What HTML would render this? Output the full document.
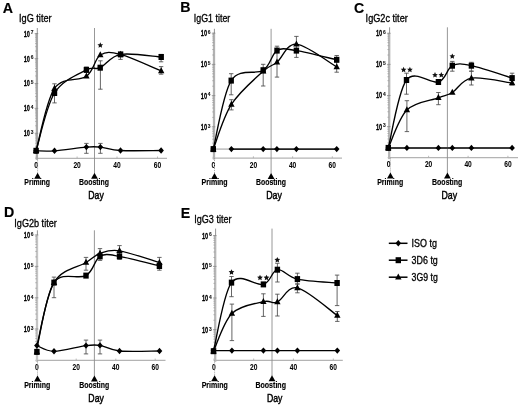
<!DOCTYPE html>
<html><head><meta charset="utf-8"><style>
html,body{margin:0;padding:0;background:#fff;overflow:hidden;width:520px;height:407px;}
svg{display:block;filter:grayscale(1);}
text{font-family:"Liberation Sans", sans-serif;}
</style></head><body>
<svg width="520" height="407" viewBox="0 0 520 407">
<rect width="520" height="407" fill="#fff"/>
<text x="2.80" y="13.10" font-size="14.20" font-weight="bold" text-anchor="start" fill="#000" stroke="#000" stroke-width="0.15">A</text>
<text x="19.00" y="21.80" font-size="10.20" font-weight="normal" text-anchor="start" fill="#000" textLength="32.60" lengthAdjust="spacingAndGlyphs" stroke="#000" stroke-width="0.30">IgG titer</text>
<line x1="35.40" y1="158.30" x2="167.00" y2="158.30" stroke="#b4b4b4" stroke-width="1.3"/>
<line x1="36.20" y1="156.50" x2="36.20" y2="158.30" stroke="#aaa" stroke-width="0.8"/>
<line x1="77.10" y1="156.50" x2="77.10" y2="158.30" stroke="#aaa" stroke-width="0.8"/>
<line x1="117.00" y1="156.50" x2="117.00" y2="158.30" stroke="#aaa" stroke-width="0.8"/>
<line x1="157.50" y1="156.50" x2="157.50" y2="158.30" stroke="#aaa" stroke-width="0.8"/>
<line x1="36.90" y1="33.10" x2="36.90" y2="159.80" stroke="#a8a8a8" stroke-width="2.3"/>
<line x1="37.30" y1="28.00" x2="37.30" y2="33.60" stroke="#777" stroke-width="0.8"/>
<line x1="35.00" y1="150.72" x2="36.90" y2="150.72" stroke="#999" stroke-width="0.6"/>
<line x1="35.00" y1="146.33" x2="36.90" y2="146.33" stroke="#999" stroke-width="0.6"/>
<line x1="35.00" y1="143.22" x2="36.90" y2="143.22" stroke="#999" stroke-width="0.6"/>
<line x1="35.00" y1="140.80" x2="36.90" y2="140.80" stroke="#999" stroke-width="0.6"/>
<line x1="35.00" y1="138.83" x2="36.90" y2="138.83" stroke="#999" stroke-width="0.6"/>
<line x1="35.00" y1="137.16" x2="36.90" y2="137.16" stroke="#999" stroke-width="0.6"/>
<line x1="35.00" y1="135.72" x2="36.90" y2="135.72" stroke="#999" stroke-width="0.6"/>
<line x1="35.00" y1="134.44" x2="36.90" y2="134.44" stroke="#999" stroke-width="0.6"/>
<line x1="35.00" y1="125.80" x2="36.90" y2="125.80" stroke="#999" stroke-width="0.6"/>
<line x1="35.00" y1="121.41" x2="36.90" y2="121.41" stroke="#999" stroke-width="0.6"/>
<line x1="35.00" y1="118.29" x2="36.90" y2="118.29" stroke="#999" stroke-width="0.6"/>
<line x1="35.00" y1="115.88" x2="36.90" y2="115.88" stroke="#999" stroke-width="0.6"/>
<line x1="35.00" y1="113.90" x2="36.90" y2="113.90" stroke="#999" stroke-width="0.6"/>
<line x1="35.00" y1="112.24" x2="36.90" y2="112.24" stroke="#999" stroke-width="0.6"/>
<line x1="35.00" y1="110.79" x2="36.90" y2="110.79" stroke="#999" stroke-width="0.6"/>
<line x1="35.00" y1="109.52" x2="36.90" y2="109.52" stroke="#999" stroke-width="0.6"/>
<line x1="35.00" y1="100.87" x2="36.90" y2="100.87" stroke="#999" stroke-width="0.6"/>
<line x1="35.00" y1="96.48" x2="36.90" y2="96.48" stroke="#999" stroke-width="0.6"/>
<line x1="35.00" y1="93.37" x2="36.90" y2="93.37" stroke="#999" stroke-width="0.6"/>
<line x1="35.00" y1="90.95" x2="36.90" y2="90.95" stroke="#999" stroke-width="0.6"/>
<line x1="35.00" y1="88.98" x2="36.90" y2="88.98" stroke="#999" stroke-width="0.6"/>
<line x1="35.00" y1="87.31" x2="36.90" y2="87.31" stroke="#999" stroke-width="0.6"/>
<line x1="35.00" y1="85.87" x2="36.90" y2="85.87" stroke="#999" stroke-width="0.6"/>
<line x1="35.00" y1="84.59" x2="36.90" y2="84.59" stroke="#999" stroke-width="0.6"/>
<line x1="35.00" y1="75.95" x2="36.90" y2="75.95" stroke="#999" stroke-width="0.6"/>
<line x1="35.00" y1="71.56" x2="36.90" y2="71.56" stroke="#999" stroke-width="0.6"/>
<line x1="35.00" y1="68.44" x2="36.90" y2="68.44" stroke="#999" stroke-width="0.6"/>
<line x1="35.00" y1="66.03" x2="36.90" y2="66.03" stroke="#999" stroke-width="0.6"/>
<line x1="35.00" y1="64.05" x2="36.90" y2="64.05" stroke="#999" stroke-width="0.6"/>
<line x1="35.00" y1="62.39" x2="36.90" y2="62.39" stroke="#999" stroke-width="0.6"/>
<line x1="35.00" y1="60.94" x2="36.90" y2="60.94" stroke="#999" stroke-width="0.6"/>
<line x1="35.00" y1="59.67" x2="36.90" y2="59.67" stroke="#999" stroke-width="0.6"/>
<line x1="35.00" y1="51.02" x2="36.90" y2="51.02" stroke="#999" stroke-width="0.6"/>
<line x1="35.00" y1="46.63" x2="36.90" y2="46.63" stroke="#999" stroke-width="0.6"/>
<line x1="35.00" y1="43.52" x2="36.90" y2="43.52" stroke="#999" stroke-width="0.6"/>
<line x1="35.00" y1="41.10" x2="36.90" y2="41.10" stroke="#999" stroke-width="0.6"/>
<line x1="35.00" y1="39.13" x2="36.90" y2="39.13" stroke="#999" stroke-width="0.6"/>
<line x1="35.00" y1="37.46" x2="36.90" y2="37.46" stroke="#999" stroke-width="0.6"/>
<line x1="35.00" y1="36.02" x2="36.90" y2="36.02" stroke="#999" stroke-width="0.6"/>
<line x1="35.00" y1="34.74" x2="36.90" y2="34.74" stroke="#999" stroke-width="0.6"/>
<line x1="34.70" y1="33.60" x2="38.20" y2="33.60" stroke="#888" stroke-width="0.8"/>
<line x1="34.70" y1="58.60" x2="38.20" y2="58.60" stroke="#888" stroke-width="0.8"/>
<line x1="34.70" y1="83.50" x2="38.20" y2="83.50" stroke="#888" stroke-width="0.8"/>
<line x1="34.70" y1="108.40" x2="38.20" y2="108.40" stroke="#888" stroke-width="0.8"/>
<line x1="34.70" y1="133.30" x2="38.20" y2="133.30" stroke="#888" stroke-width="0.8"/>
<text x="29.90" y="36.50" font-size="8.40" font-weight="bold" text-anchor="end" fill="#000" textLength="6.20" lengthAdjust="spacingAndGlyphs" stroke="#000" stroke-width="0.30">10</text>
<text x="30.70" y="34.40" font-size="4.90" font-weight="bold" text-anchor="start" fill="#111" stroke="#111" stroke-width="0.10">7</text>
<text x="29.90" y="61.50" font-size="8.40" font-weight="bold" text-anchor="end" fill="#000" textLength="6.20" lengthAdjust="spacingAndGlyphs" stroke="#000" stroke-width="0.30">10</text>
<text x="30.70" y="59.40" font-size="4.90" font-weight="bold" text-anchor="start" fill="#111" stroke="#111" stroke-width="0.10">6</text>
<text x="29.90" y="86.40" font-size="8.40" font-weight="bold" text-anchor="end" fill="#000" textLength="6.20" lengthAdjust="spacingAndGlyphs" stroke="#000" stroke-width="0.30">10</text>
<text x="30.70" y="84.30" font-size="4.90" font-weight="bold" text-anchor="start" fill="#111" stroke="#111" stroke-width="0.10">5</text>
<text x="29.90" y="111.30" font-size="8.40" font-weight="bold" text-anchor="end" fill="#000" textLength="6.20" lengthAdjust="spacingAndGlyphs" stroke="#000" stroke-width="0.30">10</text>
<text x="30.70" y="109.20" font-size="4.90" font-weight="bold" text-anchor="start" fill="#111" stroke="#111" stroke-width="0.10">4</text>
<text x="29.90" y="136.20" font-size="8.40" font-weight="bold" text-anchor="end" fill="#000" textLength="6.20" lengthAdjust="spacingAndGlyphs" stroke="#000" stroke-width="0.30">10</text>
<text x="30.70" y="134.10" font-size="4.90" font-weight="bold" text-anchor="start" fill="#111" stroke="#111" stroke-width="0.10">3</text>
<text x="36.20" y="168.10" font-size="8.40" font-weight="bold" text-anchor="middle" fill="#000" textLength="3.80" lengthAdjust="spacingAndGlyphs" stroke="#000" stroke-width="0.05">0</text>
<text x="77.10" y="168.10" font-size="8.40" font-weight="bold" text-anchor="middle" fill="#000" textLength="7.40" lengthAdjust="spacingAndGlyphs" stroke="#000" stroke-width="0.05">20</text>
<text x="117.00" y="168.10" font-size="8.40" font-weight="bold" text-anchor="middle" fill="#000" textLength="7.40" lengthAdjust="spacingAndGlyphs" stroke="#000" stroke-width="0.05">40</text>
<text x="157.50" y="168.10" font-size="8.40" font-weight="bold" text-anchor="middle" fill="#000" textLength="7.40" lengthAdjust="spacingAndGlyphs" stroke="#000" stroke-width="0.05">60</text>
<line x1="94.50" y1="28.00" x2="94.50" y2="173.30" stroke="#8c8c8c" stroke-width="0.9"/>
<line x1="37.60" y1="158.30" x2="37.60" y2="173.30" stroke="#999" stroke-width="0.9" stroke-dasharray="1,1"/>
<path d="M37.60,172.70 L41.00,178.70 L34.20,178.70 Z" fill="#000"/>
<path d="M94.50,172.70 L97.90,178.70 L91.10,178.70 Z" fill="#000"/>
<text x="37.20" y="184.90" font-size="8.40" font-weight="bold" text-anchor="middle" fill="#000" textLength="25.70" lengthAdjust="spacingAndGlyphs" stroke="#000" stroke-width="0.15">Priming</text>
<text x="94.00" y="184.90" font-size="8.40" font-weight="bold" text-anchor="middle" fill="#000" textLength="30.00" lengthAdjust="spacingAndGlyphs" stroke="#000" stroke-width="0.15">Boosting</text>
<text x="96.00" y="198.80" font-size="10.20" font-weight="normal" text-anchor="middle" fill="#000" textLength="15.50" lengthAdjust="spacingAndGlyphs" stroke="#000" stroke-width="0.45">Day</text>
<path d="M54.50,83.80 V102.90 M52.30,83.80 H56.70 M52.30,102.90 H56.70" stroke="#4a4a4a" stroke-width="0.85" fill="none"/>
<path d="M100.40,60.80 V89.20 M98.20,60.80 H102.60 M98.20,89.20 H102.60" stroke="#4a4a4a" stroke-width="0.85" fill="none"/>
<path d="M120.50,52.70 V59.40 M118.30,52.70 H122.70 M118.30,59.40 H122.70" stroke="#4a4a4a" stroke-width="0.85" fill="none"/>
<path d="M161.10,54.40 V61.80 M158.90,54.40 H163.30 M158.90,61.80 H163.30" stroke="#4a4a4a" stroke-width="0.85" fill="none"/>
<path d="M161.10,66.60 V74.20 M158.90,66.60 H163.30 M158.90,74.20 H163.30" stroke="#4a4a4a" stroke-width="0.85" fill="none"/>
<path d="M86.40,143.40 V153.30 M84.20,143.40 H88.60 M84.20,153.30 H88.60" stroke="#4a4a4a" stroke-width="0.85" fill="none"/>
<path d="M100.40,143.40 V153.30 M98.20,143.40 H102.60 M98.20,153.30 H102.60" stroke="#4a4a4a" stroke-width="0.85" fill="none"/>
<path d="M86.40,67.00 V72.00 M84.20,67.00 H88.60 M84.20,72.00 H88.60" stroke="#4a4a4a" stroke-width="0.85" fill="none"/>
<path d="M36.10,150.80 C39.17,150.80 46.12,151.42 54.50,150.80 C62.88,150.18 78.75,147.72 86.40,147.10 C94.05,146.48 94.72,146.53 100.40,147.10 C106.08,147.67 110.38,149.93 120.50,150.50 C130.62,151.07 154.33,150.50 161.10,150.50" stroke="#000" stroke-width="1.35" fill="none"/>
<path d="M36.10,150.80 C39.17,140.40 46.12,100.82 54.50,88.40 C62.88,75.98 78.77,81.87 86.40,76.30 C94.03,70.73 94.60,58.65 100.30,55.00 C106.00,51.35 110.45,51.73 120.60,54.40 C130.75,57.07 154.43,68.23 161.20,71.00" stroke="#000" stroke-width="1.35" fill="none"/>
<path d="M36.10,150.80 C39.17,141.17 46.12,106.48 54.50,93.00 C62.88,79.52 78.78,74.12 86.40,69.90 C94.02,65.68 94.50,70.28 100.20,67.70 C105.90,65.12 110.43,56.18 120.60,54.40 C130.77,52.62 154.43,56.57 161.20,57.00" stroke="#000" stroke-width="1.35" fill="none"/>
<path d="M36.10,147.08 L39.30,153.08 L32.90,153.08 Z" fill="#000"/>
<path d="M54.50,84.68 L57.70,90.68 L51.30,90.68 Z" fill="#000"/>
<path d="M86.40,72.58 L89.60,78.58 L83.20,78.58 Z" fill="#000"/>
<path d="M100.30,51.28 L103.50,57.28 L97.10,57.28 Z" fill="#000"/>
<path d="M120.60,50.68 L123.80,56.68 L117.40,56.68 Z" fill="#000"/>
<path d="M161.20,67.28 L164.40,73.28 L158.00,73.28 Z" fill="#000"/>
<rect x="33.40" y="147.80" width="5.40" height="6.00" fill="#000"/>
<rect x="51.80" y="90.00" width="5.40" height="6.00" fill="#000"/>
<rect x="83.70" y="66.90" width="5.40" height="6.00" fill="#000"/>
<rect x="97.50" y="64.70" width="5.40" height="6.00" fill="#000"/>
<rect x="117.90" y="51.40" width="5.40" height="6.00" fill="#000"/>
<rect x="158.50" y="54.00" width="5.40" height="6.00" fill="#000"/>
<path d="M36.10,147.60 L38.90,150.80 L36.10,154.00 L33.30,150.80 Z" fill="#000"/>
<path d="M54.50,147.60 L57.30,150.80 L54.50,154.00 L51.70,150.80 Z" fill="#000"/>
<path d="M86.40,143.90 L89.20,147.10 L86.40,150.30 L83.60,147.10 Z" fill="#000"/>
<path d="M100.40,143.90 L103.20,147.10 L100.40,150.30 L97.60,147.10 Z" fill="#000"/>
<path d="M120.50,147.30 L123.30,150.50 L120.50,153.70 L117.70,150.50 Z" fill="#000"/>
<path d="M161.10,147.30 L163.90,150.50 L161.10,153.70 L158.30,150.50 Z" fill="#000"/>
<path d="M100.30,42.30 L101.15,44.14 L103.15,44.37 L101.67,45.74 L102.06,47.73 L100.30,46.74 L98.54,47.73 L98.93,45.74 L97.45,44.37 L99.45,44.14 Z" fill="#111"/>
<text x="180.30" y="12.20" font-size="14.20" font-weight="bold" text-anchor="start" fill="#000" stroke="#000" stroke-width="0.15">B</text>
<text x="193.80" y="22.10" font-size="10.20" font-weight="normal" text-anchor="start" fill="#000" textLength="36.50" lengthAdjust="spacingAndGlyphs" stroke="#000" stroke-width="0.30">IgG1 titer</text>
<line x1="212.50" y1="158.10" x2="342.00" y2="158.10" stroke="#b4b4b4" stroke-width="1.3"/>
<line x1="213.40" y1="156.30" x2="213.40" y2="158.10" stroke="#aaa" stroke-width="0.8"/>
<line x1="253.40" y1="156.30" x2="253.40" y2="158.10" stroke="#aaa" stroke-width="0.8"/>
<line x1="292.60" y1="156.30" x2="292.60" y2="158.10" stroke="#aaa" stroke-width="0.8"/>
<line x1="332.30" y1="156.30" x2="332.30" y2="158.10" stroke="#aaa" stroke-width="0.8"/>
<line x1="214.00" y1="32.70" x2="214.00" y2="159.60" stroke="#b2b2b2" stroke-width="2.3"/>
<line x1="214.40" y1="28.80" x2="214.40" y2="33.20" stroke="#777" stroke-width="0.8"/>
<line x1="212.10" y1="148.61" x2="214.00" y2="148.61" stroke="#999" stroke-width="0.6"/>
<line x1="212.10" y1="143.11" x2="214.00" y2="143.11" stroke="#999" stroke-width="0.6"/>
<line x1="212.10" y1="139.22" x2="214.00" y2="139.22" stroke="#999" stroke-width="0.6"/>
<line x1="212.10" y1="136.19" x2="214.00" y2="136.19" stroke="#999" stroke-width="0.6"/>
<line x1="212.10" y1="133.72" x2="214.00" y2="133.72" stroke="#999" stroke-width="0.6"/>
<line x1="212.10" y1="131.63" x2="214.00" y2="131.63" stroke="#999" stroke-width="0.6"/>
<line x1="212.10" y1="129.82" x2="214.00" y2="129.82" stroke="#999" stroke-width="0.6"/>
<line x1="212.10" y1="128.23" x2="214.00" y2="128.23" stroke="#999" stroke-width="0.6"/>
<line x1="212.10" y1="117.41" x2="214.00" y2="117.41" stroke="#999" stroke-width="0.6"/>
<line x1="212.10" y1="111.91" x2="214.00" y2="111.91" stroke="#999" stroke-width="0.6"/>
<line x1="212.10" y1="108.02" x2="214.00" y2="108.02" stroke="#999" stroke-width="0.6"/>
<line x1="212.10" y1="104.99" x2="214.00" y2="104.99" stroke="#999" stroke-width="0.6"/>
<line x1="212.10" y1="102.52" x2="214.00" y2="102.52" stroke="#999" stroke-width="0.6"/>
<line x1="212.10" y1="100.43" x2="214.00" y2="100.43" stroke="#999" stroke-width="0.6"/>
<line x1="212.10" y1="98.62" x2="214.00" y2="98.62" stroke="#999" stroke-width="0.6"/>
<line x1="212.10" y1="97.03" x2="214.00" y2="97.03" stroke="#999" stroke-width="0.6"/>
<line x1="212.10" y1="86.21" x2="214.00" y2="86.21" stroke="#999" stroke-width="0.6"/>
<line x1="212.10" y1="80.71" x2="214.00" y2="80.71" stroke="#999" stroke-width="0.6"/>
<line x1="212.10" y1="76.82" x2="214.00" y2="76.82" stroke="#999" stroke-width="0.6"/>
<line x1="212.10" y1="73.79" x2="214.00" y2="73.79" stroke="#999" stroke-width="0.6"/>
<line x1="212.10" y1="71.32" x2="214.00" y2="71.32" stroke="#999" stroke-width="0.6"/>
<line x1="212.10" y1="69.23" x2="214.00" y2="69.23" stroke="#999" stroke-width="0.6"/>
<line x1="212.10" y1="67.42" x2="214.00" y2="67.42" stroke="#999" stroke-width="0.6"/>
<line x1="212.10" y1="65.83" x2="214.00" y2="65.83" stroke="#999" stroke-width="0.6"/>
<line x1="212.10" y1="55.01" x2="214.00" y2="55.01" stroke="#999" stroke-width="0.6"/>
<line x1="212.10" y1="49.51" x2="214.00" y2="49.51" stroke="#999" stroke-width="0.6"/>
<line x1="212.10" y1="45.62" x2="214.00" y2="45.62" stroke="#999" stroke-width="0.6"/>
<line x1="212.10" y1="42.59" x2="214.00" y2="42.59" stroke="#999" stroke-width="0.6"/>
<line x1="212.10" y1="40.12" x2="214.00" y2="40.12" stroke="#999" stroke-width="0.6"/>
<line x1="212.10" y1="38.03" x2="214.00" y2="38.03" stroke="#999" stroke-width="0.6"/>
<line x1="212.10" y1="36.22" x2="214.00" y2="36.22" stroke="#999" stroke-width="0.6"/>
<line x1="212.10" y1="34.63" x2="214.00" y2="34.63" stroke="#999" stroke-width="0.6"/>
<line x1="211.80" y1="33.20" x2="215.30" y2="33.20" stroke="#888" stroke-width="0.8"/>
<line x1="211.80" y1="64.40" x2="215.30" y2="64.40" stroke="#888" stroke-width="0.8"/>
<line x1="211.80" y1="95.60" x2="215.30" y2="95.60" stroke="#888" stroke-width="0.8"/>
<line x1="211.80" y1="126.80" x2="215.30" y2="126.80" stroke="#888" stroke-width="0.8"/>
<text x="207.00" y="36.10" font-size="8.40" font-weight="bold" text-anchor="end" fill="#000" textLength="6.20" lengthAdjust="spacingAndGlyphs" stroke="#000" stroke-width="0.30">10</text>
<text x="207.80" y="34.00" font-size="4.90" font-weight="bold" text-anchor="start" fill="#111" stroke="#111" stroke-width="0.10">6</text>
<text x="207.00" y="67.30" font-size="8.40" font-weight="bold" text-anchor="end" fill="#000" textLength="6.20" lengthAdjust="spacingAndGlyphs" stroke="#000" stroke-width="0.30">10</text>
<text x="207.80" y="65.20" font-size="4.90" font-weight="bold" text-anchor="start" fill="#111" stroke="#111" stroke-width="0.10">5</text>
<text x="207.00" y="98.50" font-size="8.40" font-weight="bold" text-anchor="end" fill="#000" textLength="6.20" lengthAdjust="spacingAndGlyphs" stroke="#000" stroke-width="0.30">10</text>
<text x="207.80" y="96.40" font-size="4.90" font-weight="bold" text-anchor="start" fill="#111" stroke="#111" stroke-width="0.10">4</text>
<text x="207.00" y="129.70" font-size="8.40" font-weight="bold" text-anchor="end" fill="#000" textLength="6.20" lengthAdjust="spacingAndGlyphs" stroke="#000" stroke-width="0.30">10</text>
<text x="207.80" y="127.60" font-size="4.90" font-weight="bold" text-anchor="start" fill="#111" stroke="#111" stroke-width="0.10">3</text>
<text x="213.40" y="167.90" font-size="8.40" font-weight="bold" text-anchor="middle" fill="#000" textLength="3.80" lengthAdjust="spacingAndGlyphs" stroke="#000" stroke-width="0.05">0</text>
<text x="253.40" y="167.90" font-size="8.40" font-weight="bold" text-anchor="middle" fill="#000" textLength="7.40" lengthAdjust="spacingAndGlyphs" stroke="#000" stroke-width="0.05">20</text>
<text x="292.60" y="167.90" font-size="8.40" font-weight="bold" text-anchor="middle" fill="#000" textLength="7.40" lengthAdjust="spacingAndGlyphs" stroke="#000" stroke-width="0.05">40</text>
<text x="332.30" y="167.90" font-size="8.40" font-weight="bold" text-anchor="middle" fill="#000" textLength="7.40" lengthAdjust="spacingAndGlyphs" stroke="#000" stroke-width="0.05">60</text>
<line x1="271.10" y1="28.80" x2="271.10" y2="173.50" stroke="#8c8c8c" stroke-width="0.9"/>
<line x1="214.50" y1="158.10" x2="214.50" y2="173.50" stroke="#999" stroke-width="0.9" stroke-dasharray="1,1"/>
<path d="M214.50,172.90 L217.90,178.90 L211.10,178.90 Z" fill="#000"/>
<path d="M271.10,172.90 L274.50,178.90 L267.70,178.90 Z" fill="#000"/>
<text x="214.60" y="185.10" font-size="8.40" font-weight="bold" text-anchor="middle" fill="#000" textLength="26.10" lengthAdjust="spacingAndGlyphs" stroke="#000" stroke-width="0.15">Priming</text>
<text x="271.00" y="185.10" font-size="8.40" font-weight="bold" text-anchor="middle" fill="#000" textLength="29.80" lengthAdjust="spacingAndGlyphs" stroke="#000" stroke-width="0.15">Boosting</text>
<text x="274.00" y="198.80" font-size="10.20" font-weight="normal" text-anchor="middle" fill="#000" textLength="15.70" lengthAdjust="spacingAndGlyphs" stroke="#000" stroke-width="0.45">Day</text>
<path d="M231.20,73.70 V94.80 M229.00,73.70 H233.40 M229.00,94.80 H233.40" stroke="#4a4a4a" stroke-width="0.85" fill="none"/>
<path d="M263.20,64.30 V86.00 M261.00,64.30 H265.40 M261.00,86.00 H265.40" stroke="#4a4a4a" stroke-width="0.85" fill="none"/>
<path d="M277.00,46.20 V77.10 M274.80,46.20 H279.20 M274.80,77.10 H279.20" stroke="#4a4a4a" stroke-width="0.85" fill="none"/>
<path d="M296.40,36.40 V57.40 M294.20,36.40 H298.60 M294.20,57.40 H298.60" stroke="#4a4a4a" stroke-width="0.85" fill="none"/>
<path d="M336.70,55.50 V72.20 M334.50,55.50 H338.90 M334.50,72.20 H338.90" stroke="#4a4a4a" stroke-width="0.85" fill="none"/>
<path d="M231.40,99.70 V109.90 M229.20,99.70 H233.60 M229.20,109.90 H233.60" stroke="#4a4a4a" stroke-width="0.85" fill="none"/>
<path d="M213.30,149.10 C216.32,149.10 228.38,149.10 231.40,149.10" stroke="#bbb" stroke-width="1.5" fill="none"/>
<path d="M231.40,149.10 C236.70,149.10 255.62,149.10 263.20,149.10 C270.78,149.10 271.37,149.10 276.90,149.10 C282.43,149.10 286.43,149.10 296.40,149.10 C306.37,149.10 329.98,149.10 336.70,149.10" stroke="#222" stroke-width="1.60" fill="none"/>
<path d="M213.30,149.10 C216.32,141.65 223.08,117.38 231.40,104.40 C239.72,91.42 255.60,78.22 263.20,71.20 C270.80,64.18 271.47,66.82 277.00,62.30 C282.53,57.78 286.45,43.33 296.40,44.10 C306.35,44.87 329.98,63.10 336.70,66.90" stroke="#000" stroke-width="1.35" fill="none"/>
<path d="M213.30,149.10 C216.28,137.68 222.88,93.75 231.20,80.60 C239.52,67.45 255.57,75.20 263.20,70.20 C270.83,65.20 271.47,53.87 277.00,50.60 C282.53,47.33 286.45,49.07 296.40,50.60 C306.35,52.13 329.98,58.27 336.70,59.80" stroke="#000" stroke-width="1.35" fill="none"/>
<path d="M213.30,145.38 L216.50,151.38 L210.10,151.38 Z" fill="#000"/>
<path d="M231.40,100.68 L234.60,106.68 L228.20,106.68 Z" fill="#000"/>
<path d="M263.20,67.48 L266.40,73.48 L260.00,73.48 Z" fill="#000"/>
<path d="M277.00,58.58 L280.20,64.58 L273.80,64.58 Z" fill="#000"/>
<path d="M296.40,40.38 L299.60,46.38 L293.20,46.38 Z" fill="#000"/>
<path d="M336.70,63.18 L339.90,69.18 L333.50,69.18 Z" fill="#000"/>
<rect x="210.60" y="146.10" width="5.40" height="6.00" fill="#000"/>
<rect x="228.50" y="77.60" width="5.40" height="6.00" fill="#000"/>
<rect x="260.50" y="67.20" width="5.40" height="6.00" fill="#000"/>
<rect x="274.30" y="47.60" width="5.40" height="6.00" fill="#000"/>
<rect x="293.70" y="47.60" width="5.40" height="6.00" fill="#000"/>
<rect x="334.00" y="56.80" width="5.40" height="6.00" fill="#000"/>
<path d="M213.30,145.90 L216.10,149.10 L213.30,152.30 L210.50,149.10 Z" fill="#000"/>
<path d="M231.40,145.90 L234.20,149.10 L231.40,152.30 L228.60,149.10 Z" fill="#000"/>
<path d="M263.20,145.90 L266.00,149.10 L263.20,152.30 L260.40,149.10 Z" fill="#000"/>
<path d="M276.90,145.90 L279.70,149.10 L276.90,152.30 L274.10,149.10 Z" fill="#000"/>
<path d="M296.40,145.90 L299.20,149.10 L296.40,152.30 L293.60,149.10 Z" fill="#000"/>
<path d="M336.70,145.90 L339.50,149.10 L336.70,152.30 L333.90,149.10 Z" fill="#000"/>
<text x="354.00" y="13.00" font-size="14.20" font-weight="bold" text-anchor="start" fill="#000" stroke="#000" stroke-width="0.15">C</text>
<text x="365.60" y="22.10" font-size="10.20" font-weight="normal" text-anchor="start" fill="#000" textLength="42.20" lengthAdjust="spacingAndGlyphs" stroke="#000" stroke-width="0.30">IgG2c titer</text>
<line x1="387.70" y1="157.60" x2="518.00" y2="157.60" stroke="#b4b4b4" stroke-width="1.3"/>
<line x1="388.70" y1="155.80" x2="388.70" y2="157.60" stroke="#aaa" stroke-width="0.8"/>
<line x1="428.60" y1="155.80" x2="428.60" y2="157.60" stroke="#aaa" stroke-width="0.8"/>
<line x1="468.10" y1="155.80" x2="468.10" y2="157.60" stroke="#aaa" stroke-width="0.8"/>
<line x1="507.90" y1="155.80" x2="507.90" y2="157.60" stroke="#aaa" stroke-width="0.8"/>
<line x1="389.20" y1="32.80" x2="389.20" y2="159.10" stroke="#b6b6b6" stroke-width="2.3"/>
<line x1="389.60" y1="27.30" x2="389.60" y2="33.30" stroke="#777" stroke-width="0.8"/>
<line x1="387.30" y1="148.34" x2="389.20" y2="148.34" stroke="#999" stroke-width="0.6"/>
<line x1="387.30" y1="142.86" x2="389.20" y2="142.86" stroke="#999" stroke-width="0.6"/>
<line x1="387.30" y1="138.98" x2="389.20" y2="138.98" stroke="#999" stroke-width="0.6"/>
<line x1="387.30" y1="135.96" x2="389.20" y2="135.96" stroke="#999" stroke-width="0.6"/>
<line x1="387.30" y1="133.50" x2="389.20" y2="133.50" stroke="#999" stroke-width="0.6"/>
<line x1="387.30" y1="131.42" x2="389.20" y2="131.42" stroke="#999" stroke-width="0.6"/>
<line x1="387.30" y1="129.61" x2="389.20" y2="129.61" stroke="#999" stroke-width="0.6"/>
<line x1="387.30" y1="128.02" x2="389.20" y2="128.02" stroke="#999" stroke-width="0.6"/>
<line x1="387.30" y1="117.24" x2="389.20" y2="117.24" stroke="#999" stroke-width="0.6"/>
<line x1="387.30" y1="111.76" x2="389.20" y2="111.76" stroke="#999" stroke-width="0.6"/>
<line x1="387.30" y1="107.88" x2="389.20" y2="107.88" stroke="#999" stroke-width="0.6"/>
<line x1="387.30" y1="104.86" x2="389.20" y2="104.86" stroke="#999" stroke-width="0.6"/>
<line x1="387.30" y1="102.40" x2="389.20" y2="102.40" stroke="#999" stroke-width="0.6"/>
<line x1="387.30" y1="100.32" x2="389.20" y2="100.32" stroke="#999" stroke-width="0.6"/>
<line x1="387.30" y1="98.51" x2="389.20" y2="98.51" stroke="#999" stroke-width="0.6"/>
<line x1="387.30" y1="96.92" x2="389.20" y2="96.92" stroke="#999" stroke-width="0.6"/>
<line x1="387.30" y1="86.14" x2="389.20" y2="86.14" stroke="#999" stroke-width="0.6"/>
<line x1="387.30" y1="80.66" x2="389.20" y2="80.66" stroke="#999" stroke-width="0.6"/>
<line x1="387.30" y1="76.78" x2="389.20" y2="76.78" stroke="#999" stroke-width="0.6"/>
<line x1="387.30" y1="73.76" x2="389.20" y2="73.76" stroke="#999" stroke-width="0.6"/>
<line x1="387.30" y1="71.30" x2="389.20" y2="71.30" stroke="#999" stroke-width="0.6"/>
<line x1="387.30" y1="69.22" x2="389.20" y2="69.22" stroke="#999" stroke-width="0.6"/>
<line x1="387.30" y1="67.41" x2="389.20" y2="67.41" stroke="#999" stroke-width="0.6"/>
<line x1="387.30" y1="65.82" x2="389.20" y2="65.82" stroke="#999" stroke-width="0.6"/>
<line x1="387.30" y1="55.04" x2="389.20" y2="55.04" stroke="#999" stroke-width="0.6"/>
<line x1="387.30" y1="49.56" x2="389.20" y2="49.56" stroke="#999" stroke-width="0.6"/>
<line x1="387.30" y1="45.68" x2="389.20" y2="45.68" stroke="#999" stroke-width="0.6"/>
<line x1="387.30" y1="42.66" x2="389.20" y2="42.66" stroke="#999" stroke-width="0.6"/>
<line x1="387.30" y1="40.20" x2="389.20" y2="40.20" stroke="#999" stroke-width="0.6"/>
<line x1="387.30" y1="38.12" x2="389.20" y2="38.12" stroke="#999" stroke-width="0.6"/>
<line x1="387.30" y1="36.31" x2="389.20" y2="36.31" stroke="#999" stroke-width="0.6"/>
<line x1="387.30" y1="34.72" x2="389.20" y2="34.72" stroke="#999" stroke-width="0.6"/>
<line x1="387.00" y1="33.30" x2="390.50" y2="33.30" stroke="#888" stroke-width="0.8"/>
<line x1="387.00" y1="64.40" x2="390.50" y2="64.40" stroke="#888" stroke-width="0.8"/>
<line x1="387.00" y1="95.50" x2="390.50" y2="95.50" stroke="#888" stroke-width="0.8"/>
<line x1="387.00" y1="126.60" x2="390.50" y2="126.60" stroke="#888" stroke-width="0.8"/>
<text x="382.20" y="36.20" font-size="8.40" font-weight="bold" text-anchor="end" fill="#000" textLength="6.20" lengthAdjust="spacingAndGlyphs" stroke="#000" stroke-width="0.30">10</text>
<text x="383.00" y="34.10" font-size="4.90" font-weight="bold" text-anchor="start" fill="#111" stroke="#111" stroke-width="0.10">6</text>
<text x="382.20" y="67.30" font-size="8.40" font-weight="bold" text-anchor="end" fill="#000" textLength="6.20" lengthAdjust="spacingAndGlyphs" stroke="#000" stroke-width="0.30">10</text>
<text x="383.00" y="65.20" font-size="4.90" font-weight="bold" text-anchor="start" fill="#111" stroke="#111" stroke-width="0.10">5</text>
<text x="382.20" y="98.40" font-size="8.40" font-weight="bold" text-anchor="end" fill="#000" textLength="6.20" lengthAdjust="spacingAndGlyphs" stroke="#000" stroke-width="0.30">10</text>
<text x="383.00" y="96.30" font-size="4.90" font-weight="bold" text-anchor="start" fill="#111" stroke="#111" stroke-width="0.10">4</text>
<text x="382.20" y="129.50" font-size="8.40" font-weight="bold" text-anchor="end" fill="#000" textLength="6.20" lengthAdjust="spacingAndGlyphs" stroke="#000" stroke-width="0.30">10</text>
<text x="383.00" y="127.40" font-size="4.90" font-weight="bold" text-anchor="start" fill="#111" stroke="#111" stroke-width="0.10">3</text>
<text x="388.70" y="167.40" font-size="8.40" font-weight="bold" text-anchor="middle" fill="#000" textLength="3.80" lengthAdjust="spacingAndGlyphs" stroke="#000" stroke-width="0.05">0</text>
<text x="428.60" y="167.40" font-size="8.40" font-weight="bold" text-anchor="middle" fill="#000" textLength="7.40" lengthAdjust="spacingAndGlyphs" stroke="#000" stroke-width="0.05">20</text>
<text x="468.10" y="167.40" font-size="8.40" font-weight="bold" text-anchor="middle" fill="#000" textLength="7.40" lengthAdjust="spacingAndGlyphs" stroke="#000" stroke-width="0.05">40</text>
<text x="507.90" y="167.40" font-size="8.40" font-weight="bold" text-anchor="middle" fill="#000" textLength="7.40" lengthAdjust="spacingAndGlyphs" stroke="#000" stroke-width="0.05">60</text>
<line x1="447.40" y1="27.30" x2="447.40" y2="173.20" stroke="#8c8c8c" stroke-width="0.9"/>
<line x1="390.40" y1="157.60" x2="390.40" y2="173.20" stroke="#999" stroke-width="0.9" stroke-dasharray="1,1"/>
<path d="M390.40,172.60 L393.80,178.60 L387.00,178.60 Z" fill="#000"/>
<path d="M447.40,172.60 L450.80,178.60 L444.00,178.60 Z" fill="#000"/>
<text x="390.20" y="184.80" font-size="8.40" font-weight="bold" text-anchor="middle" fill="#000" textLength="26.00" lengthAdjust="spacingAndGlyphs" stroke="#000" stroke-width="0.15">Priming</text>
<text x="447.20" y="184.80" font-size="8.40" font-weight="bold" text-anchor="middle" fill="#000" textLength="30.30" lengthAdjust="spacingAndGlyphs" stroke="#000" stroke-width="0.15">Boosting</text>
<text x="449.30" y="198.80" font-size="10.20" font-weight="normal" text-anchor="middle" fill="#000" textLength="15.60" lengthAdjust="spacingAndGlyphs" stroke="#000" stroke-width="0.45">Day</text>
<path d="M406.50,73.20 V94.20 M404.30,73.20 H408.70 M404.30,94.20 H408.70" stroke="#4a4a4a" stroke-width="0.85" fill="none"/>
<path d="M406.90,100.70 V131.60 M404.70,100.70 H409.10 M404.70,131.60 H409.10" stroke="#4a4a4a" stroke-width="0.85" fill="none"/>
<path d="M438.40,92.50 V104.70 M436.20,92.50 H440.60 M436.20,104.70 H440.60" stroke="#4a4a4a" stroke-width="0.85" fill="none"/>
<path d="M452.30,61.40 V71.20 M450.10,61.40 H454.50 M450.10,71.20 H454.50" stroke="#4a4a4a" stroke-width="0.85" fill="none"/>
<path d="M471.40,62.30 V71.20 M469.20,62.30 H473.60 M469.20,71.20 H473.60" stroke="#4a4a4a" stroke-width="0.85" fill="none"/>
<path d="M471.40,71.20 V85.00 M469.20,71.20 H473.60 M469.20,85.00 H473.60" stroke="#4a4a4a" stroke-width="0.85" fill="none"/>
<path d="M512.10,73.20 V85.00 M509.90,73.20 H514.30 M509.90,85.00 H514.30" stroke="#4a4a4a" stroke-width="0.85" fill="none"/>
<path d="M388.30,147.90 C391.40,147.90 398.55,147.90 406.90,147.90 C415.25,147.90 430.83,147.90 438.40,147.90 C445.97,147.90 446.80,147.90 452.30,147.90 C457.80,147.90 461.43,147.90 471.40,147.90 C481.37,147.90 505.32,147.90 512.10,147.90" stroke="#3a3a3a" stroke-width="2.00" fill="none"/>
<path d="M388.30,147.90 C391.40,141.58 398.55,118.35 406.90,110.00 C415.25,101.65 430.83,100.72 438.40,97.80 C445.97,94.88 446.80,95.78 452.30,92.50 C457.80,89.22 461.43,79.68 471.40,78.10 C481.37,76.52 505.32,82.18 512.10,83.00" stroke="#000" stroke-width="1.35" fill="none"/>
<path d="M388.30,147.90 C391.33,136.58 398.15,90.98 406.50,80.00 C414.85,69.02 430.77,84.38 438.40,82.00 C446.03,79.62 446.80,68.42 452.30,65.70 C457.80,62.98 461.43,63.63 471.40,65.70 C481.37,67.77 505.32,76.03 512.10,78.10" stroke="#000" stroke-width="1.35" fill="none"/>
<path d="M388.30,144.18 L391.50,150.18 L385.10,150.18 Z" fill="#000"/>
<path d="M406.90,106.28 L410.10,112.28 L403.70,112.28 Z" fill="#000"/>
<path d="M438.40,94.08 L441.60,100.08 L435.20,100.08 Z" fill="#000"/>
<path d="M452.30,88.78 L455.50,94.78 L449.10,94.78 Z" fill="#000"/>
<path d="M471.40,74.38 L474.60,80.38 L468.20,80.38 Z" fill="#000"/>
<path d="M512.10,79.28 L515.30,85.28 L508.90,85.28 Z" fill="#000"/>
<rect x="385.60" y="144.90" width="5.40" height="6.00" fill="#000"/>
<rect x="403.80" y="77.00" width="5.40" height="6.00" fill="#000"/>
<rect x="435.70" y="79.00" width="5.40" height="6.00" fill="#000"/>
<rect x="449.60" y="62.70" width="5.40" height="6.00" fill="#000"/>
<rect x="468.70" y="62.70" width="5.40" height="6.00" fill="#000"/>
<rect x="509.40" y="75.10" width="5.40" height="6.00" fill="#000"/>
<path d="M388.30,144.70 L391.10,147.90 L388.30,151.10 L385.50,147.90 Z" fill="#000"/>
<path d="M406.90,144.70 L409.70,147.90 L406.90,151.10 L404.10,147.90 Z" fill="#000"/>
<path d="M438.40,144.70 L441.20,147.90 L438.40,151.10 L435.60,147.90 Z" fill="#000"/>
<path d="M452.30,144.70 L455.10,147.90 L452.30,151.10 L449.50,147.90 Z" fill="#000"/>
<path d="M471.40,144.70 L474.20,147.90 L471.40,151.10 L468.60,147.90 Z" fill="#000"/>
<path d="M512.10,144.70 L514.90,147.90 L512.10,151.10 L509.30,147.90 Z" fill="#000"/>
<path d="M403.60,66.80 L404.45,68.64 L406.45,68.87 L404.97,70.24 L405.36,72.23 L403.60,71.24 L401.84,72.23 L402.23,70.24 L400.75,68.87 L402.75,68.64 Z" fill="#111"/>
<path d="M409.90,66.80 L410.75,68.64 L412.75,68.87 L411.27,70.24 L411.66,72.23 L409.90,71.24 L408.14,72.23 L408.53,70.24 L407.05,68.87 L409.05,68.64 Z" fill="#111"/>
<path d="M435.00,72.10 L435.85,73.94 L437.85,74.17 L436.37,75.54 L436.76,77.53 L435.00,76.54 L433.24,77.53 L433.63,75.54 L432.15,74.17 L434.15,73.94 Z" fill="#111"/>
<path d="M441.30,72.10 L442.15,73.94 L444.15,74.17 L442.67,75.54 L443.06,77.53 L441.30,76.54 L439.54,77.53 L439.93,75.54 L438.45,74.17 L440.45,73.94 Z" fill="#111"/>
<path d="M452.30,53.40 L453.15,55.24 L455.15,55.47 L453.67,56.84 L454.06,58.83 L452.30,57.84 L450.54,58.83 L450.93,56.84 L449.45,55.47 L451.45,55.24 Z" fill="#111"/>
<text x="4.00" y="217.10" font-size="14.20" font-weight="bold" text-anchor="start" fill="#000" stroke="#000" stroke-width="0.15">D</text>
<text x="14.30" y="227.10" font-size="10.20" font-weight="normal" text-anchor="start" fill="#000" textLength="42.50" lengthAdjust="spacingAndGlyphs" stroke="#000" stroke-width="0.30">IgG2b titer</text>
<line x1="35.50" y1="360.40" x2="165.50" y2="360.40" stroke="#b4b4b4" stroke-width="1.3"/>
<line x1="36.90" y1="358.60" x2="36.90" y2="360.40" stroke="#aaa" stroke-width="0.8"/>
<line x1="76.20" y1="358.60" x2="76.20" y2="360.40" stroke="#aaa" stroke-width="0.8"/>
<line x1="115.80" y1="358.60" x2="115.80" y2="360.40" stroke="#aaa" stroke-width="0.8"/>
<line x1="155.20" y1="358.60" x2="155.20" y2="360.40" stroke="#aaa" stroke-width="0.8"/>
<line x1="37.00" y1="234.50" x2="37.00" y2="361.90" stroke="#c4c4c4" stroke-width="2.3"/>
<line x1="37.40" y1="230.30" x2="37.40" y2="235.00" stroke="#777" stroke-width="0.8"/>
<line x1="35.10" y1="350.90" x2="37.00" y2="350.90" stroke="#999" stroke-width="0.6"/>
<line x1="35.10" y1="345.38" x2="37.00" y2="345.38" stroke="#999" stroke-width="0.6"/>
<line x1="35.10" y1="341.47" x2="37.00" y2="341.47" stroke="#999" stroke-width="0.6"/>
<line x1="35.10" y1="338.43" x2="37.00" y2="338.43" stroke="#999" stroke-width="0.6"/>
<line x1="35.10" y1="335.95" x2="37.00" y2="335.95" stroke="#999" stroke-width="0.6"/>
<line x1="35.10" y1="333.85" x2="37.00" y2="333.85" stroke="#999" stroke-width="0.6"/>
<line x1="35.10" y1="332.04" x2="37.00" y2="332.04" stroke="#999" stroke-width="0.6"/>
<line x1="35.10" y1="330.43" x2="37.00" y2="330.43" stroke="#999" stroke-width="0.6"/>
<line x1="35.10" y1="319.57" x2="37.00" y2="319.57" stroke="#999" stroke-width="0.6"/>
<line x1="35.10" y1="314.05" x2="37.00" y2="314.05" stroke="#999" stroke-width="0.6"/>
<line x1="35.10" y1="310.14" x2="37.00" y2="310.14" stroke="#999" stroke-width="0.6"/>
<line x1="35.10" y1="307.10" x2="37.00" y2="307.10" stroke="#999" stroke-width="0.6"/>
<line x1="35.10" y1="304.62" x2="37.00" y2="304.62" stroke="#999" stroke-width="0.6"/>
<line x1="35.10" y1="302.52" x2="37.00" y2="302.52" stroke="#999" stroke-width="0.6"/>
<line x1="35.10" y1="300.70" x2="37.00" y2="300.70" stroke="#999" stroke-width="0.6"/>
<line x1="35.10" y1="299.10" x2="37.00" y2="299.10" stroke="#999" stroke-width="0.6"/>
<line x1="35.10" y1="288.23" x2="37.00" y2="288.23" stroke="#999" stroke-width="0.6"/>
<line x1="35.10" y1="282.72" x2="37.00" y2="282.72" stroke="#999" stroke-width="0.6"/>
<line x1="35.10" y1="278.80" x2="37.00" y2="278.80" stroke="#999" stroke-width="0.6"/>
<line x1="35.10" y1="275.77" x2="37.00" y2="275.77" stroke="#999" stroke-width="0.6"/>
<line x1="35.10" y1="273.28" x2="37.00" y2="273.28" stroke="#999" stroke-width="0.6"/>
<line x1="35.10" y1="271.19" x2="37.00" y2="271.19" stroke="#999" stroke-width="0.6"/>
<line x1="35.10" y1="269.37" x2="37.00" y2="269.37" stroke="#999" stroke-width="0.6"/>
<line x1="35.10" y1="267.77" x2="37.00" y2="267.77" stroke="#999" stroke-width="0.6"/>
<line x1="35.10" y1="256.90" x2="37.00" y2="256.90" stroke="#999" stroke-width="0.6"/>
<line x1="35.10" y1="251.38" x2="37.00" y2="251.38" stroke="#999" stroke-width="0.6"/>
<line x1="35.10" y1="247.47" x2="37.00" y2="247.47" stroke="#999" stroke-width="0.6"/>
<line x1="35.10" y1="244.43" x2="37.00" y2="244.43" stroke="#999" stroke-width="0.6"/>
<line x1="35.10" y1="241.95" x2="37.00" y2="241.95" stroke="#999" stroke-width="0.6"/>
<line x1="35.10" y1="239.85" x2="37.00" y2="239.85" stroke="#999" stroke-width="0.6"/>
<line x1="35.10" y1="238.04" x2="37.00" y2="238.04" stroke="#999" stroke-width="0.6"/>
<line x1="35.10" y1="236.43" x2="37.00" y2="236.43" stroke="#999" stroke-width="0.6"/>
<line x1="34.80" y1="235.00" x2="38.30" y2="235.00" stroke="#888" stroke-width="0.8"/>
<line x1="34.80" y1="266.40" x2="38.30" y2="266.40" stroke="#888" stroke-width="0.8"/>
<line x1="34.80" y1="297.80" x2="38.30" y2="297.80" stroke="#888" stroke-width="0.8"/>
<line x1="34.80" y1="329.00" x2="38.30" y2="329.00" stroke="#888" stroke-width="0.8"/>
<text x="30.00" y="237.90" font-size="8.40" font-weight="bold" text-anchor="end" fill="#000" textLength="6.20" lengthAdjust="spacingAndGlyphs" stroke="#000" stroke-width="0.30">10</text>
<text x="30.80" y="235.80" font-size="4.90" font-weight="bold" text-anchor="start" fill="#111" stroke="#111" stroke-width="0.10">6</text>
<text x="30.00" y="269.30" font-size="8.40" font-weight="bold" text-anchor="end" fill="#000" textLength="6.20" lengthAdjust="spacingAndGlyphs" stroke="#000" stroke-width="0.30">10</text>
<text x="30.80" y="267.20" font-size="4.90" font-weight="bold" text-anchor="start" fill="#111" stroke="#111" stroke-width="0.10">5</text>
<text x="30.00" y="300.70" font-size="8.40" font-weight="bold" text-anchor="end" fill="#000" textLength="6.20" lengthAdjust="spacingAndGlyphs" stroke="#000" stroke-width="0.30">10</text>
<text x="30.80" y="298.60" font-size="4.90" font-weight="bold" text-anchor="start" fill="#111" stroke="#111" stroke-width="0.10">4</text>
<text x="30.00" y="331.90" font-size="8.40" font-weight="bold" text-anchor="end" fill="#000" textLength="6.20" lengthAdjust="spacingAndGlyphs" stroke="#000" stroke-width="0.30">10</text>
<text x="30.80" y="329.80" font-size="4.90" font-weight="bold" text-anchor="start" fill="#111" stroke="#111" stroke-width="0.10">3</text>
<text x="36.90" y="370.20" font-size="8.40" font-weight="bold" text-anchor="middle" fill="#000" textLength="3.80" lengthAdjust="spacingAndGlyphs" stroke="#000" stroke-width="0.05">0</text>
<text x="76.20" y="370.20" font-size="8.40" font-weight="bold" text-anchor="middle" fill="#000" textLength="7.40" lengthAdjust="spacingAndGlyphs" stroke="#000" stroke-width="0.05">20</text>
<text x="115.80" y="370.20" font-size="8.40" font-weight="bold" text-anchor="middle" fill="#000" textLength="7.40" lengthAdjust="spacingAndGlyphs" stroke="#000" stroke-width="0.05">40</text>
<text x="155.20" y="370.20" font-size="8.40" font-weight="bold" text-anchor="middle" fill="#000" textLength="7.40" lengthAdjust="spacingAndGlyphs" stroke="#000" stroke-width="0.05">60</text>
<line x1="94.40" y1="230.30" x2="94.40" y2="376.00" stroke="#8c8c8c" stroke-width="0.9"/>
<line x1="37.50" y1="360.40" x2="37.50" y2="376.00" stroke="#999" stroke-width="0.9" stroke-dasharray="1,1"/>
<path d="M37.50,375.40 L40.90,381.40 L34.10,381.40 Z" fill="#000"/>
<path d="M94.40,375.40 L97.80,381.40 L91.00,381.40 Z" fill="#000"/>
<text x="37.20" y="387.60" font-size="8.40" font-weight="bold" text-anchor="middle" fill="#000" textLength="26.10" lengthAdjust="spacingAndGlyphs" stroke="#000" stroke-width="0.15">Priming</text>
<text x="94.20" y="387.60" font-size="8.40" font-weight="bold" text-anchor="middle" fill="#000" textLength="30.00" lengthAdjust="spacingAndGlyphs" stroke="#000" stroke-width="0.15">Boosting</text>
<text x="96.10" y="401.50" font-size="10.20" font-weight="normal" text-anchor="middle" fill="#000" textLength="15.50" lengthAdjust="spacingAndGlyphs" stroke="#000" stroke-width="0.45">Day</text>
<path d="M54.00,277.10 V297.70 M51.80,277.10 H56.20 M51.80,297.70 H56.20" stroke="#4a4a4a" stroke-width="0.85" fill="none"/>
<path d="M86.00,257.40 V270.20 M83.80,257.40 H88.20 M83.80,270.20 H88.20" stroke="#4a4a4a" stroke-width="0.85" fill="none"/>
<path d="M100.00,248.60 V260.40 M97.80,248.60 H102.20 M97.80,260.40 H102.20" stroke="#4a4a4a" stroke-width="0.85" fill="none"/>
<path d="M119.50,245.60 V259.40 M117.30,245.60 H121.70 M117.30,259.40 H121.70" stroke="#4a4a4a" stroke-width="0.85" fill="none"/>
<path d="M159.40,257.40 V270.20 M157.20,257.40 H161.60 M157.20,270.20 H161.60" stroke="#4a4a4a" stroke-width="0.85" fill="none"/>
<path d="M86.00,340.10 V353.90 M83.80,340.10 H88.20 M83.80,353.90 H88.20" stroke="#4a4a4a" stroke-width="0.85" fill="none"/>
<path d="M100.00,340.10 V353.90 M97.80,340.10 H102.20 M97.80,353.90 H102.20" stroke="#4a4a4a" stroke-width="0.85" fill="none"/>
<path d="M36.90,345.60 C39.75,346.55 45.82,351.30 54.00,351.30 C62.18,351.30 78.33,346.58 86.00,345.60 C93.67,344.62 94.42,344.50 100.00,345.40 C105.58,346.30 109.58,350.07 119.50,351.00 C129.42,351.93 152.83,351.00 159.50,351.00" stroke="#000" stroke-width="1.35" fill="none"/>
<path d="M37.00,345.60 C39.83,335.10 45.83,296.45 54.00,282.60 C62.17,268.75 78.33,267.35 86.00,262.50 C93.67,257.65 94.42,255.45 100.00,253.50 C105.58,251.55 109.60,249.28 119.50,250.80 C129.40,252.32 152.75,260.63 159.40,262.60" stroke="#000" stroke-width="1.35" fill="none"/>
<path d="M37.20,346.50 C40.00,335.85 45.87,294.42 54.00,282.60 C62.13,270.78 78.33,279.97 86.00,275.60 C93.67,271.23 94.42,259.62 100.00,256.40 C105.58,253.18 109.60,254.70 119.50,256.30 C129.40,257.90 152.75,264.38 159.40,266.00" stroke="#000" stroke-width="1.35" fill="none"/>
<path d="M36.90,348.18 L40.10,354.18 L33.70,354.18 Z" fill="#000"/>
<path d="M54.00,278.88 L57.20,284.88 L50.80,284.88 Z" fill="#000"/>
<path d="M86.00,258.78 L89.20,264.78 L82.80,264.78 Z" fill="#000"/>
<path d="M100.00,249.78 L103.20,255.78 L96.80,255.78 Z" fill="#000"/>
<path d="M119.50,247.08 L122.70,253.08 L116.30,253.08 Z" fill="#000"/>
<path d="M159.40,258.88 L162.60,264.88 L156.20,264.88 Z" fill="#000"/>
<rect x="34.20" y="348.90" width="5.40" height="6.00" fill="#000"/>
<rect x="51.30" y="279.60" width="5.40" height="6.00" fill="#000"/>
<rect x="83.30" y="272.60" width="5.40" height="6.00" fill="#000"/>
<rect x="97.30" y="253.40" width="5.40" height="6.00" fill="#000"/>
<rect x="116.80" y="253.30" width="5.40" height="6.00" fill="#000"/>
<rect x="156.70" y="263.00" width="5.40" height="6.00" fill="#000"/>
<path d="M36.90,342.40 L39.70,345.60 L36.90,348.80 L34.10,345.60 Z" fill="#000"/>
<path d="M54.00,348.10 L56.80,351.30 L54.00,354.50 L51.20,351.30 Z" fill="#000"/>
<path d="M86.00,342.40 L88.80,345.60 L86.00,348.80 L83.20,345.60 Z" fill="#000"/>
<path d="M100.00,342.20 L102.80,345.40 L100.00,348.60 L97.20,345.40 Z" fill="#000"/>
<path d="M119.50,347.80 L122.30,351.00 L119.50,354.20 L116.70,351.00 Z" fill="#000"/>
<path d="M159.50,347.80 L162.30,351.00 L159.50,354.20 L156.70,351.00 Z" fill="#000"/>
<text x="180.70" y="218.20" font-size="14.20" font-weight="bold" text-anchor="start" fill="#000" stroke="#000" stroke-width="0.15">E</text>
<text x="194.30" y="223.40" font-size="10.20" font-weight="normal" text-anchor="start" fill="#000" textLength="37.20" lengthAdjust="spacingAndGlyphs" stroke="#000" stroke-width="0.30">IgG3 titer</text>
<line x1="213.70" y1="360.30" x2="342.80" y2="360.30" stroke="#b4b4b4" stroke-width="1.3"/>
<line x1="214.00" y1="358.50" x2="214.00" y2="360.30" stroke="#aaa" stroke-width="0.8"/>
<line x1="253.70" y1="358.50" x2="253.70" y2="360.30" stroke="#aaa" stroke-width="0.8"/>
<line x1="293.40" y1="358.50" x2="293.40" y2="360.30" stroke="#aaa" stroke-width="0.8"/>
<line x1="333.30" y1="358.50" x2="333.30" y2="360.30" stroke="#aaa" stroke-width="0.8"/>
<line x1="215.20" y1="235.10" x2="215.20" y2="361.80" stroke="#b8b8b8" stroke-width="2.3"/>
<line x1="215.60" y1="228.60" x2="215.60" y2="235.60" stroke="#777" stroke-width="0.8"/>
<line x1="213.30" y1="351.62" x2="215.20" y2="351.62" stroke="#999" stroke-width="0.6"/>
<line x1="213.30" y1="346.10" x2="215.20" y2="346.10" stroke="#999" stroke-width="0.6"/>
<line x1="213.30" y1="342.18" x2="215.20" y2="342.18" stroke="#999" stroke-width="0.6"/>
<line x1="213.30" y1="339.14" x2="215.20" y2="339.14" stroke="#999" stroke-width="0.6"/>
<line x1="213.30" y1="336.66" x2="215.20" y2="336.66" stroke="#999" stroke-width="0.6"/>
<line x1="213.30" y1="334.56" x2="215.20" y2="334.56" stroke="#999" stroke-width="0.6"/>
<line x1="213.30" y1="332.74" x2="215.20" y2="332.74" stroke="#999" stroke-width="0.6"/>
<line x1="213.30" y1="331.14" x2="215.20" y2="331.14" stroke="#999" stroke-width="0.6"/>
<line x1="213.30" y1="320.26" x2="215.20" y2="320.26" stroke="#999" stroke-width="0.6"/>
<line x1="213.30" y1="314.73" x2="215.20" y2="314.73" stroke="#999" stroke-width="0.6"/>
<line x1="213.30" y1="310.82" x2="215.20" y2="310.82" stroke="#999" stroke-width="0.6"/>
<line x1="213.30" y1="307.78" x2="215.20" y2="307.78" stroke="#999" stroke-width="0.6"/>
<line x1="213.30" y1="305.29" x2="215.20" y2="305.29" stroke="#999" stroke-width="0.6"/>
<line x1="213.30" y1="303.19" x2="215.20" y2="303.19" stroke="#999" stroke-width="0.6"/>
<line x1="213.30" y1="301.37" x2="215.20" y2="301.37" stroke="#999" stroke-width="0.6"/>
<line x1="213.30" y1="299.77" x2="215.20" y2="299.77" stroke="#999" stroke-width="0.6"/>
<line x1="213.30" y1="288.89" x2="215.20" y2="288.89" stroke="#999" stroke-width="0.6"/>
<line x1="213.30" y1="283.37" x2="215.20" y2="283.37" stroke="#999" stroke-width="0.6"/>
<line x1="213.30" y1="279.45" x2="215.20" y2="279.45" stroke="#999" stroke-width="0.6"/>
<line x1="213.30" y1="276.41" x2="215.20" y2="276.41" stroke="#999" stroke-width="0.6"/>
<line x1="213.30" y1="273.93" x2="215.20" y2="273.93" stroke="#999" stroke-width="0.6"/>
<line x1="213.30" y1="271.83" x2="215.20" y2="271.83" stroke="#999" stroke-width="0.6"/>
<line x1="213.30" y1="270.01" x2="215.20" y2="270.01" stroke="#999" stroke-width="0.6"/>
<line x1="213.30" y1="268.40" x2="215.20" y2="268.40" stroke="#999" stroke-width="0.6"/>
<line x1="213.30" y1="257.52" x2="215.20" y2="257.52" stroke="#999" stroke-width="0.6"/>
<line x1="213.30" y1="252.00" x2="215.20" y2="252.00" stroke="#999" stroke-width="0.6"/>
<line x1="213.30" y1="248.08" x2="215.20" y2="248.08" stroke="#999" stroke-width="0.6"/>
<line x1="213.30" y1="245.04" x2="215.20" y2="245.04" stroke="#999" stroke-width="0.6"/>
<line x1="213.30" y1="242.56" x2="215.20" y2="242.56" stroke="#999" stroke-width="0.6"/>
<line x1="213.30" y1="240.46" x2="215.20" y2="240.46" stroke="#999" stroke-width="0.6"/>
<line x1="213.30" y1="238.64" x2="215.20" y2="238.64" stroke="#999" stroke-width="0.6"/>
<line x1="213.30" y1="237.04" x2="215.20" y2="237.04" stroke="#999" stroke-width="0.6"/>
<line x1="213.00" y1="235.60" x2="216.50" y2="235.60" stroke="#888" stroke-width="0.8"/>
<line x1="213.00" y1="266.40" x2="216.50" y2="266.40" stroke="#888" stroke-width="0.8"/>
<line x1="213.00" y1="298.00" x2="216.50" y2="298.00" stroke="#888" stroke-width="0.8"/>
<line x1="213.00" y1="329.70" x2="216.50" y2="329.70" stroke="#888" stroke-width="0.8"/>
<text x="208.20" y="238.50" font-size="8.40" font-weight="bold" text-anchor="end" fill="#000" textLength="6.20" lengthAdjust="spacingAndGlyphs" stroke="#000" stroke-width="0.30">10</text>
<text x="209.00" y="236.40" font-size="4.90" font-weight="bold" text-anchor="start" fill="#111" stroke="#111" stroke-width="0.10">6</text>
<text x="208.20" y="269.30" font-size="8.40" font-weight="bold" text-anchor="end" fill="#000" textLength="6.20" lengthAdjust="spacingAndGlyphs" stroke="#000" stroke-width="0.30">10</text>
<text x="209.00" y="267.20" font-size="4.90" font-weight="bold" text-anchor="start" fill="#111" stroke="#111" stroke-width="0.10">5</text>
<text x="208.20" y="300.90" font-size="8.40" font-weight="bold" text-anchor="end" fill="#000" textLength="6.20" lengthAdjust="spacingAndGlyphs" stroke="#000" stroke-width="0.30">10</text>
<text x="209.00" y="298.80" font-size="4.90" font-weight="bold" text-anchor="start" fill="#111" stroke="#111" stroke-width="0.10">4</text>
<text x="208.20" y="332.60" font-size="8.40" font-weight="bold" text-anchor="end" fill="#000" textLength="6.20" lengthAdjust="spacingAndGlyphs" stroke="#000" stroke-width="0.30">10</text>
<text x="209.00" y="330.50" font-size="4.90" font-weight="bold" text-anchor="start" fill="#111" stroke="#111" stroke-width="0.10">3</text>
<text x="214.00" y="370.10" font-size="8.40" font-weight="bold" text-anchor="middle" fill="#000" textLength="3.80" lengthAdjust="spacingAndGlyphs" stroke="#000" stroke-width="0.05">0</text>
<text x="253.70" y="370.10" font-size="8.40" font-weight="bold" text-anchor="middle" fill="#000" textLength="7.40" lengthAdjust="spacingAndGlyphs" stroke="#000" stroke-width="0.05">20</text>
<text x="293.40" y="370.10" font-size="8.40" font-weight="bold" text-anchor="middle" fill="#000" textLength="7.40" lengthAdjust="spacingAndGlyphs" stroke="#000" stroke-width="0.05">40</text>
<text x="333.30" y="370.10" font-size="8.40" font-weight="bold" text-anchor="middle" fill="#000" textLength="7.40" lengthAdjust="spacingAndGlyphs" stroke="#000" stroke-width="0.05">60</text>
<line x1="272.00" y1="228.60" x2="272.00" y2="375.90" stroke="#8c8c8c" stroke-width="0.9"/>
<line x1="214.60" y1="360.30" x2="214.60" y2="375.90" stroke="#999" stroke-width="0.9" stroke-dasharray="1,1"/>
<path d="M214.60,375.30 L218.00,381.30 L211.20,381.30 Z" fill="#000"/>
<path d="M272.00,375.30 L275.40,381.30 L268.60,381.30 Z" fill="#000"/>
<text x="214.70" y="387.50" font-size="8.40" font-weight="bold" text-anchor="middle" fill="#000" textLength="26.10" lengthAdjust="spacingAndGlyphs" stroke="#000" stroke-width="0.15">Priming</text>
<text x="270.70" y="387.50" font-size="8.40" font-weight="bold" text-anchor="middle" fill="#000" textLength="30.50" lengthAdjust="spacingAndGlyphs" stroke="#000" stroke-width="0.15">Boosting</text>
<text x="274.60" y="401.60" font-size="10.20" font-weight="normal" text-anchor="middle" fill="#000" textLength="15.40" lengthAdjust="spacingAndGlyphs" stroke="#000" stroke-width="0.45">Day</text>
<path d="M231.50,276.50 V296.70 M229.30,276.50 H233.70 M229.30,296.70 H233.70" stroke="#4a4a4a" stroke-width="0.85" fill="none"/>
<path d="M277.40,263.30 V282.00 M275.20,263.30 H279.60 M275.20,282.00 H279.60" stroke="#4a4a4a" stroke-width="0.85" fill="none"/>
<path d="M297.40,273.20 V284.00 M295.20,273.20 H299.60 M295.20,284.00 H299.60" stroke="#4a4a4a" stroke-width="0.85" fill="none"/>
<path d="M337.10,275.10 V305.60 M334.90,275.10 H339.30 M334.90,305.60 H339.30" stroke="#4a4a4a" stroke-width="0.85" fill="none"/>
<path d="M231.90,304.10 V340.60 M229.70,304.10 H234.10 M229.70,340.60 H234.10" stroke="#4a4a4a" stroke-width="0.85" fill="none"/>
<path d="M263.40,293.80 V316.40 M261.20,293.80 H265.60 M261.20,316.40 H265.60" stroke="#4a4a4a" stroke-width="0.85" fill="none"/>
<path d="M277.40,294.20 V316.00 M275.20,294.20 H279.60 M275.20,316.00 H279.60" stroke="#4a4a4a" stroke-width="0.85" fill="none"/>
<path d="M297.40,284.00 V292.80 M295.20,284.00 H299.60 M295.20,292.80 H299.60" stroke="#4a4a4a" stroke-width="0.85" fill="none"/>
<path d="M337.30,311.50 V321.40 M335.10,311.50 H339.50 M335.10,321.40 H339.50" stroke="#4a4a4a" stroke-width="0.85" fill="none"/>
<path d="M213.50,350.60 C216.57,350.60 223.58,350.60 231.90,350.60 C240.22,350.60 255.82,350.60 263.40,350.60 C270.98,350.60 271.73,350.60 277.40,350.60 C283.07,350.60 287.42,350.60 297.40,350.60 C307.38,350.60 330.65,350.60 337.30,350.60" stroke="#000" stroke-width="1.35" fill="none"/>
<path d="M213.50,351.20 C216.57,344.92 223.58,321.75 231.90,313.50 C240.22,305.25 255.82,303.62 263.40,301.70 C270.98,299.78 271.73,304.30 277.40,302.00 C283.07,299.70 287.42,285.65 297.40,287.90 C307.38,290.15 330.65,310.90 337.30,315.50" stroke="#000" stroke-width="1.35" fill="none"/>
<path d="M213.50,351.20 C216.50,339.77 223.18,293.73 231.50,282.60 C239.82,271.47 255.75,286.55 263.40,284.40 C271.05,282.25 271.73,270.58 277.40,269.70 C283.07,268.82 287.45,276.88 297.40,279.10 C307.35,281.32 330.48,282.35 337.10,283.00" stroke="#000" stroke-width="1.35" fill="none"/>
<path d="M213.50,347.48 L216.70,353.48 L210.30,353.48 Z" fill="#000"/>
<path d="M231.90,309.78 L235.10,315.78 L228.70,315.78 Z" fill="#000"/>
<path d="M263.40,297.98 L266.60,303.98 L260.20,303.98 Z" fill="#000"/>
<path d="M277.40,298.28 L280.60,304.28 L274.20,304.28 Z" fill="#000"/>
<path d="M297.40,284.18 L300.60,290.18 L294.20,290.18 Z" fill="#000"/>
<path d="M337.30,311.78 L340.50,317.78 L334.10,317.78 Z" fill="#000"/>
<rect x="210.80" y="348.20" width="5.40" height="6.00" fill="#000"/>
<rect x="228.80" y="279.60" width="5.40" height="6.00" fill="#000"/>
<rect x="260.70" y="281.40" width="5.40" height="6.00" fill="#000"/>
<rect x="274.70" y="266.70" width="5.40" height="6.00" fill="#000"/>
<rect x="294.70" y="276.10" width="5.40" height="6.00" fill="#000"/>
<rect x="334.40" y="280.00" width="5.40" height="6.00" fill="#000"/>
<path d="M213.50,347.40 L216.30,350.60 L213.50,353.80 L210.70,350.60 Z" fill="#000"/>
<path d="M231.90,347.40 L234.70,350.60 L231.90,353.80 L229.10,350.60 Z" fill="#000"/>
<path d="M263.40,347.40 L266.20,350.60 L263.40,353.80 L260.60,350.60 Z" fill="#000"/>
<path d="M277.40,347.40 L280.20,350.60 L277.40,353.80 L274.60,350.60 Z" fill="#000"/>
<path d="M297.40,347.40 L300.20,350.60 L297.40,353.80 L294.60,350.60 Z" fill="#000"/>
<path d="M337.30,347.40 L340.10,350.60 L337.30,353.80 L334.50,350.60 Z" fill="#000"/>
<path d="M231.50,269.20 L232.35,271.04 L234.35,271.27 L232.87,272.64 L233.26,274.63 L231.50,273.64 L229.74,274.63 L230.13,272.64 L228.65,271.27 L230.65,271.04 Z" fill="#111"/>
<path d="M260.00,274.70 L260.85,276.54 L262.85,276.77 L261.37,278.14 L261.76,280.13 L260.00,279.14 L258.24,280.13 L258.63,278.14 L257.15,276.77 L259.15,276.54 Z" fill="#111"/>
<path d="M266.50,274.70 L267.35,276.54 L269.35,276.77 L267.87,278.14 L268.26,280.13 L266.50,279.14 L264.74,280.13 L265.13,278.14 L263.65,276.77 L265.65,276.54 Z" fill="#111"/>
<path d="M277.30,257.00 L278.15,258.84 L280.15,259.07 L278.67,260.44 L279.06,262.43 L277.30,261.44 L275.54,262.43 L275.93,260.44 L274.45,259.07 L276.45,258.84 Z" fill="#111"/>
<line x1="388.8" y1="243.30" x2="407.5" y2="243.30" stroke="#000" stroke-width="1.5"/>
<path d="M398.30,240.10 L401.10,243.30 L398.30,246.50 L395.50,243.30 Z" fill="#000"/>
<text x="411.60" y="246.60" font-size="10.20" font-weight="normal" text-anchor="start" fill="#000" textLength="25.40" lengthAdjust="spacingAndGlyphs" stroke="#000" stroke-width="0.30">ISO tg</text>
<line x1="388.8" y1="260.20" x2="407.5" y2="260.20" stroke="#000" stroke-width="1.5"/>
<rect x="395.60" y="257.20" width="5.40" height="6.00" fill="#000"/>
<text x="411.60" y="263.50" font-size="10.20" font-weight="normal" text-anchor="start" fill="#000" textLength="26.20" lengthAdjust="spacingAndGlyphs" stroke="#000" stroke-width="0.30">3D6 tg</text>
<line x1="388.8" y1="277.20" x2="407.5" y2="277.20" stroke="#000" stroke-width="1.5"/>
<path d="M398.30,273.48 L401.50,279.48 L395.10,279.48 Z" fill="#000"/>
<text x="411.60" y="280.50" font-size="10.20" font-weight="normal" text-anchor="start" fill="#000" textLength="26.20" lengthAdjust="spacingAndGlyphs" stroke="#000" stroke-width="0.30">3G9 tg</text>
</svg>
</body></html>
